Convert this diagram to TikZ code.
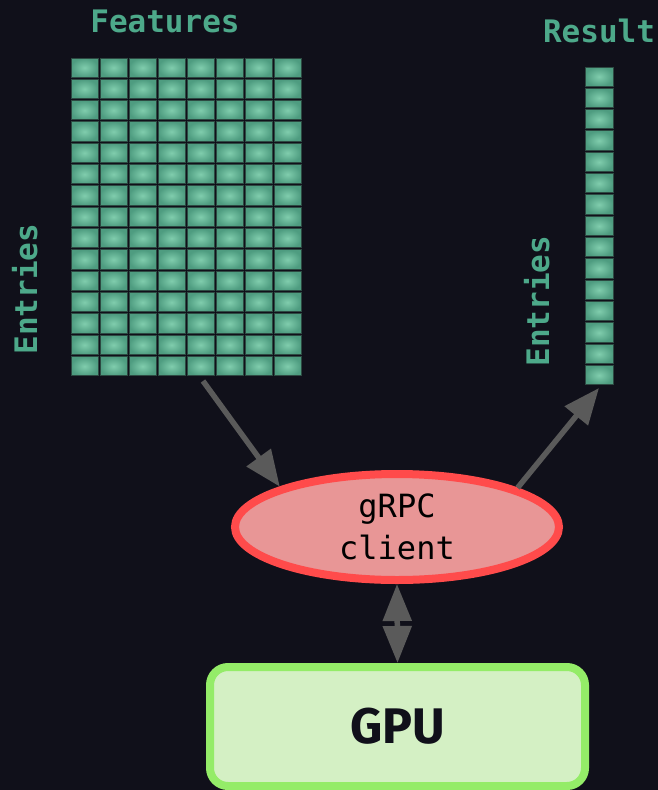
\documentclass[tikz,border=0pt]{standalone}
\usepackage{fontspec}
\newfontfamily\codefont{DejaVu Sans Mono}
\newfontfamily\gpufont{Fira Sans}
\usetikzlibrary{arrows.meta,shapes.geometric}
\definecolor{bg}{HTML}{10101A}
\definecolor{cellhi}{HTML}{80CDAD}
\definecolor{celllo}{HTML}{4E9C80}
\definecolor{cellline}{HTML}{2D4A42}
\definecolor{labelgreen}{HTML}{4DA98A}
\definecolor{clientfill}{HTML}{E89696}
\definecolor{clientline}{HTML}{FF4B4B}
\definecolor{gpufill}{HTML}{D4F0C4}
\definecolor{gpuline}{HTML}{94EC68}
\definecolor{arrowgrey}{HTML}{5A5A5A}
\begin{document}
\begin{tikzpicture}
	[x=1pt,y=-1pt,
	cell/.style={draw=cellline,line width=1pt,inner color=cellhi,outer color=celllo},
	axis label/.style={text=labelgreen,font=\codefont\bfseries\fontsize{31}{31}\selectfont},
	link/.style={draw=arrowgrey,line width=5.5pt,-{Triangle[length=36pt,width=29pt]}}]
	\useasboundingbox (0,0) rectangle (658,790);
	\fill[bg] (0,0) rectangle (658,790);
	% feature matrix and result column
	\foreach \i in {0,...,7}
		\foreach \j in {0,...,14}
			\shadedraw[cell] ({71+29*\i},{58+21.33*\j}) rectangle ++(27,19.3);
	\foreach \j in {0,...,14}
		\shadedraw[cell] (585,{67+21.33*\j}) rectangle ++(28,19.3);
	\coordinate (features) at (203,381);
	\coordinate (result) at (599,388);
	\node (featlabel) [axis label,anchor=base] at (165,32) {Features};
	\node (reslabel) [axis label,anchor=base] at (599,42) {Result};
	\node (rowlabel) [axis label,anchor=base,rotate=90] at (37,289) {Entries};
	\node (reslabel2) [axis label,anchor=base,rotate=90] at (549,301) {Entries};
	% client and gpu
	\node (client) [ellipse,draw=clientline,fill=clientfill,line width=8pt,
		minimum width=324pt,minimum height=106pt,align=center,
		font=\codefont\fontsize{32}{42}\selectfont,text=black] at (397,527) {gRPC\\client};
	\node (gpu) [draw=gpuline,fill=gpufill,line width=8pt,rounded corners=18pt,
		minimum width=375pt,minimum height=119pt,text=bg,
		font=\gpufont\bfseries\fontsize{50}{50}\selectfont] at (397.5,726.5) {GPU};
	\draw[link] (features) -- (client.161);
	\draw[link] (client.18) -- (result);
	\draw[link,{Triangle[length=37pt,width=28pt]}-{Triangle[length=37pt,width=28pt]}] (client.south) -- (gpu.north);
\end{tikzpicture}
\end{document}
